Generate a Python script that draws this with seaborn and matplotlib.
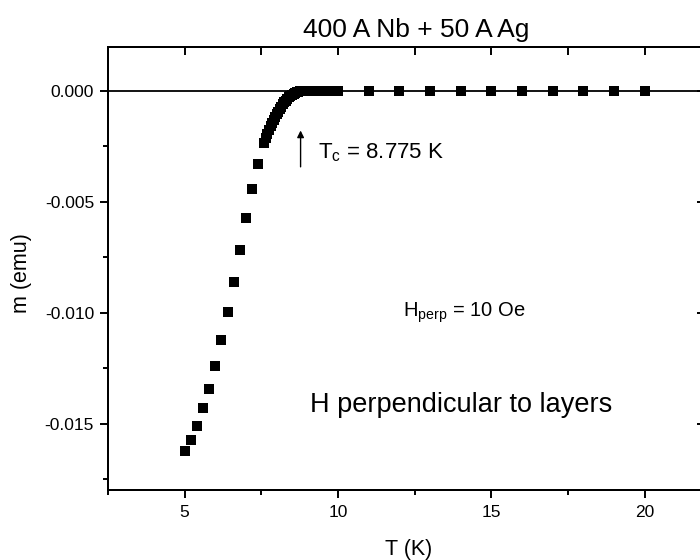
import numpy as np
import pandas as pd
import matplotlib
matplotlib.use("Agg")
import matplotlib.pyplot as plt
import seaborn as sns
from matplotlib.ticker import FixedLocator, NullFormatter

# ---- data ----
t_low = [5.0, 5.2, 5.4, 5.6, 5.8, 6.0, 6.2, 6.4, 6.6, 6.8, 7.0, 7.2, 7.4]
m_low = [-0.01626, -0.01574, -0.01510, -0.01431, -0.01343, -0.01242, -0.01125,
         -0.00996, -0.00860, -0.00717, -0.00573, -0.00442, -0.00329]

t_trans = [7.60, 7.65, 7.70, 7.75, 7.80, 7.85, 7.90, 7.95, 8.00, 8.05, 8.10, 8.15,
           8.20, 8.25, 8.30, 8.35, 8.40, 8.45, 8.50, 8.55, 8.60, 8.65, 8.70, 8.75, 8.80]
m_trans = [-0.00234, -0.00214, -0.00195, -0.00177, -0.00160, -0.00145, -0.00130,
           -0.00117, -0.00105, -0.00093, -0.00081, -0.00070, -0.00060, -0.00051,
           -0.00043, -0.00035, -0.00028, -0.00022, -0.00017, -0.00012, -0.00009,
           -0.00006, -0.00004, -0.00002, -0.00001]

t_flat = [8.9, 9.0, 9.1, 9.2, 9.3, 9.4, 9.5, 9.6, 9.7, 9.8, 9.9, 10.0]
m_flat = [0.0, 0.0, 0.0, 0.0, 0.0, 0.0, 0.0, 0.0, 0.0, 0.0, 0.0, 0.0]

t_high = [11, 12, 13, 14, 15, 16, 17, 18, 19, 20]
m_high = [0.0, 0.0, 0.0, 0.0, 0.0, 0.0, 0.0, 0.0, 0.0, 0.0]

x_major = [5, 10, 15, 20]
x_minor = [2.5, 7.5, 12.5, 17.5]
x_top = [2.5, 5, 7.5, 10, 12.5, 15, 17.5, 20]
y_major = [0.0, -0.005, -0.010, -0.015]
y_major_labels = ["0.000", "-0.005", "-0.010", "-0.015"]
y_minor = [-0.0025, -0.0075, -0.0125, -0.0175]

title = "400 A Nb + 50 A Ag"
x_label = "T (K)"
y_label = "m (emu)"
tc_text = r"T$_\mathregular{c}$ = 8.775 K"
hperp_text = r"H$_\mathregular{perp}$ = 10 Oe"
orient_text = "H perpendicular to layers"

df = pd.DataFrame({
    "T": t_low + t_trans + t_flat + t_high,
    "m": m_low + m_trans + m_flat + m_high,
})

# ---- style ----
sns.set_style("ticks")
plt.rcParams["font.family"] = ["Liberation Sans", "DejaVu Sans"]
plt.rcParams["axes.unicode_minus"] = False
plt.rcParams["mathtext.fontset"] = "custom"
plt.rcParams["mathtext.rm"] = "Liberation Sans"
plt.rcParams["mathtext.it"] = "Liberation Sans:italic"
plt.rcParams["text.color"] = "black"
plt.rcParams["axes.labelcolor"] = "black"
plt.rcParams["xtick.color"] = "black"
plt.rcParams["ytick.color"] = "black"
plt.rcParams["axes.edgecolor"] = "black"

XLIM = (2.5, 22)
YLIM = (-0.018, 0.002)

fig = plt.figure(figsize=(7.0, 5.6), dpi=100)
ax = fig.add_axes([108 / 700, 70 / 560, 598 / 700, 443.3 / 560])

ax.axhline(0.0, color="black", lw=1.3, zorder=1)
sns.scatterplot(data=df, x="T", y="m", marker="s", s=44, color="black",
                linewidth=0, ax=ax, legend=False, zorder=3)

ax.set_xlim(*XLIM)
ax.set_ylim(*YLIM)

for sp in ax.spines.values():
    sp.set_visible(True)
    sp.set_linewidth(1.4)
    sp.set_color("black")

ax.xaxis.set_major_locator(FixedLocator(x_major))
ax.xaxis.set_minor_locator(FixedLocator(x_minor))
ax.set_xticklabels([str(v) for v in x_major])
ax.yaxis.set_major_locator(FixedLocator(y_major))
ax.yaxis.set_minor_locator(FixedLocator(y_minor))
ax.set_yticklabels(y_major_labels)
ax.tick_params(axis="both", which="both", bottom=True, left=True, top=False, right=False,
               direction="out", color="black")
ax.tick_params(axis="both", which="major", length=6, width=1.4,
               labelsize=12.5, labelcolor="black")
ax.tick_params(axis="both", which="minor", length=3.5, width=1.4)
ax.tick_params(axis="x", which="major", pad=5)
ax.tick_params(axis="y", which="major", pad=4)
ax.set_xlabel("")
ax.set_ylabel("")

# top mirrored ticks (inward)
axt = ax.twiny()
axt.set_xlim(*XLIM)
axt.xaxis.set_major_locator(FixedLocator(x_top))
axt.xaxis.set_major_formatter(NullFormatter())
axt.tick_params(axis="x", which="both", top=True, bottom=False, labeltop=False,
                labelbottom=False, direction="in", length=6, width=1.4, color="black")
for sp in axt.spines.values():
    sp.set_linewidth(1.4)
    sp.set_color("black")

# right mirrored ticks (inward)
axr = ax.twinx()
axr.set_ylim(*YLIM)
axr.yaxis.set_major_locator(FixedLocator(y_major))
axr.yaxis.set_major_formatter(NullFormatter())
axr.tick_params(axis="y", which="both", right=True, left=False, labelright=False,
                labelleft=False, direction="in", length=6.5, width=1.4, color="black")
for sp in axr.spines.values():
    sp.set_linewidth(1.4)
    sp.set_color("black")

# texts
fig.text(416 / 700, 1 - 37 / 560, title, ha="center", va="baseline", fontsize=19)
fig.text(409 / 700, 1 - 549 / 560, x_label, ha="center", va="center", fontsize=15.5)
fig.text(22 / 700, 1 - 273 / 560, y_label, ha="center", va="center",
         rotation=90, fontsize=15.5)

ax.text(9.35, -0.00302, tc_text, ha="left", va="baseline", fontsize=16)
ax.text(12.12, -0.01019, hperp_text, ha="left", va="baseline", fontsize=14.5)
ax.text(14.02, -0.01449, orient_text, ha="center", va="baseline", fontsize=19.5)

ax.annotate("", xy=(8.78, -0.00178), xytext=(8.78, -0.00342),
            arrowprops=dict(arrowstyle="-|>", color="black", lw=1.0,
                            mutation_scale=10, shrinkA=0, shrinkB=0))

fig.savefig("out.png", dpi=100)
